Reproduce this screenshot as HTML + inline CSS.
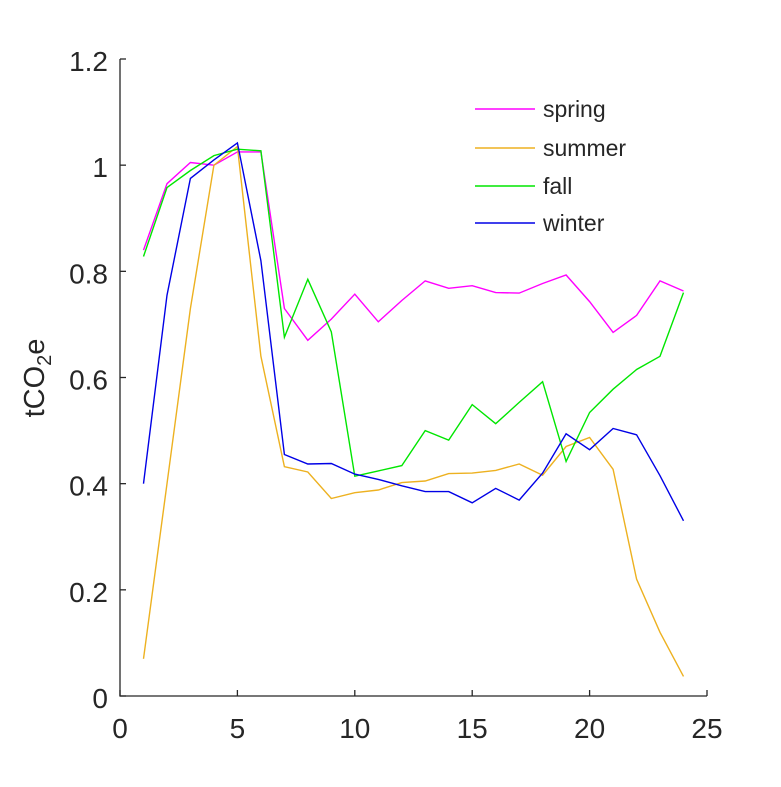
<!DOCTYPE html>
<html><head><meta charset="utf-8"><style>
body{margin:0;background:#fff}
svg{font-family:"Liberation Sans",Arial,sans-serif}
</style></head><body>
<svg id="chart" width="781" height="782">
<g id="axes"></g>
<g id="series"></g>
<g id="legend"></g>
<text transform="translate(44,378) rotate(-90)" text-anchor="middle" font-size="29" fill="#262626">tCO<tspan font-size="20" dy="7">2</tspan><tspan dy="-7">e</tspan></text>
</svg>
<script>
const hours=[1,2,3,4,5,6,7,8,9,10,11,12,13,14,15,16,17,18,19,20,21,22,23,24];
const spring=[0.84,0.965,1.005,1.0,1.025,1.025,0.73,0.67,0.71,0.757,0.705,0.745,0.782,0.768,0.773,0.76,0.759,0.777,0.793,0.743,0.685,0.717,0.782,0.763];
const summer=[0.07,0.40,0.73,1.0,1.035,0.64,0.432,0.422,0.372,0.383,0.388,0.402,0.405,0.419,0.42,0.425,0.437,0.416,0.47,0.487,0.427,0.22,0.12,0.037];
const fall=[0.828,0.958,0.99,1.018,1.03,1.027,0.676,0.785,0.686,0.414,0.424,0.434,0.5,0.482,0.549,0.513,0.553,0.592,0.442,0.534,0.578,0.615,0.64,0.76];
const winter=[0.40,0.755,0.975,1.01,1.042,0.82,0.455,0.437,0.438,0.418,0.408,0.396,0.385,0.385,0.364,0.391,0.369,0.42,0.494,0.464,0.504,0.492,0.415,0.33];
const seriesNames=["spring","summer","fall","winter"];
const xTicks=[0,5,10,15,20,25];
const yTicks=[0,0.2,0.4,0.6,0.8,1,1.2];
const yTickLabels=["0","0.2","0.4","0.6","0.8","1","1.2"];
const colors=["#ff00ff","#edb120","#00e600","#0000e6"];
const NS="http://www.w3.org/2000/svg";
const X0=120,X1=707,Y0=696,Y1=59;
const xs=v=>X0+(v-0)/25*(X1-X0);
const ys=v=>Y0-(v/1.2)*(Y0-Y1);
function mk(tag,attrs,parent){const e=document.createElementNS(NS,tag);for(const k in attrs)e.setAttribute(k,attrs[k]);parent.appendChild(e);return e;}
const axes=document.getElementById('axes');
let a=mk('path',{d:`M${X0},${Y1}V${Y0}H${X1}`,fill:'none',stroke:'#262626','stroke-width':1.3},axes);


xTicks.forEach(t=>{
 const x=xs(t);
 const l=mk('line',{x1:x,x2:x,y1:Y0,y2:Y0-6,stroke:'#262626','stroke-width':1.3},axes);
 
 
 const tx=mk('text',{x:x,y:Y0+42,'text-anchor':'middle','font-size':28,fill:'#262626'},axes);
 tx.textContent=t;
 
 
});
yTicks.forEach((t,i)=>{
 const y=ys(t);
 const l=mk('line',{x1:X0,x2:X0+6,y1:y,y2:y,stroke:'#262626','stroke-width':1.3},axes);
 
 
 const tx=mk('text',{x:X0-12,y:y+12,'text-anchor':'end','font-size':28,fill:'#262626'},axes);
 tx.textContent=yTickLabels[i];
 
 
});
const sg=document.getElementById('series');
[spring,summer,fall,winter].forEach((arr,si)=>{
 const pts=arr.map((v,i)=>xs(hours[i]).toFixed(1)+','+ys(v).toFixed(1)).join(' ');
 const p=mk('polyline',{points:pts,fill:'none',stroke:colors[si],'stroke-width':1.4},sg);
 
 
});
const lg=document.getElementById('legend');
const ly=[109,148,186,223];
seriesNames.forEach((n,i)=>{
 const l=mk('line',{x1:475,x2:535,y1:ly[i],y2:ly[i],stroke:colors[i],'stroke-width':1.4},lg);
 
 
 const t=mk('text',{x:543,y:ly[i]+8,'font-size':23,fill:'#262626'},lg);
 t.textContent=n;
 
 
});
</script>
</body></html>
